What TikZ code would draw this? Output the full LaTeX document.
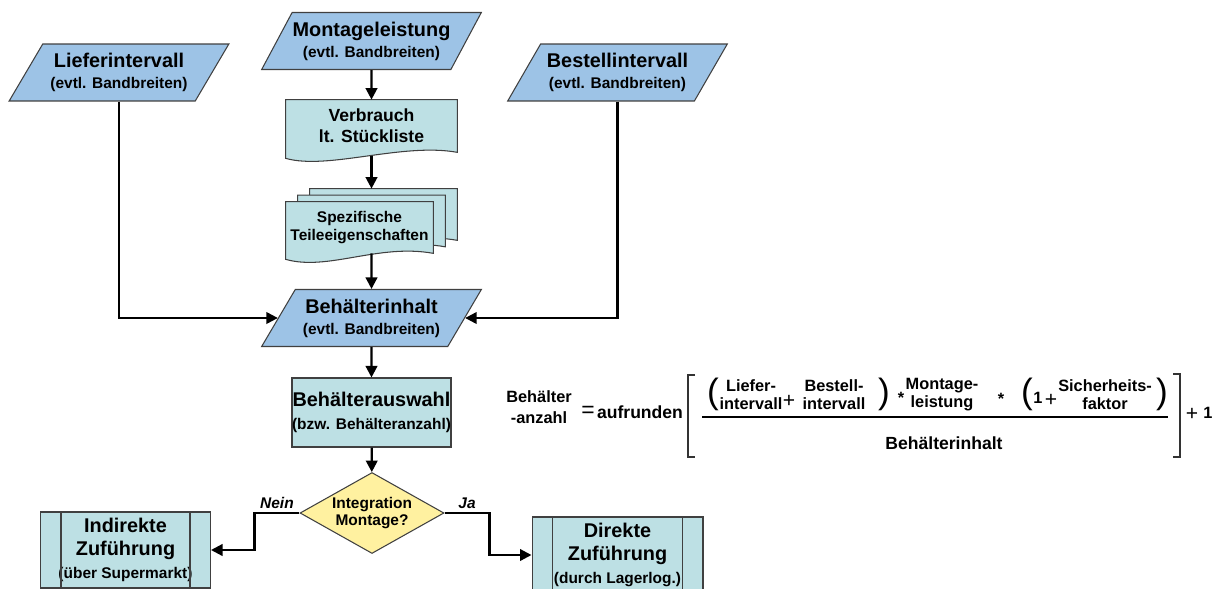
\documentclass[tikz,border=0pt]{standalone}
\usepackage{fontspec}
\setmainfont{Liberation Sans}
\usepackage{tikz}
\usetikzlibrary{shapes.geometric}
\usetikzlibrary{arrows.meta}
\usetikzlibrary{backgrounds}
\usetikzlibrary{positioning}

\definecolor{datenblau}{RGB}{157,195,230}
\definecolor{prozessgruen}{RGB}{189,224,228}
\definecolor{fragegelb}{RGB}{255,241,160}

% kleine Zweitzeile in den Symbolen
\newcommand{\klein}{\fontsize{8.8}{10}\selectfont}
% Dokumentsymbol mit welliger Unterkante
\newcommand{\blatt}[1]{(#1.north west) -- (#1.north east) -- (#1.south east) .. controls +(-55,-10) and +(42,12) .. ([yshift=-0.12cm]#1.south west) -- cycle}

\begin{document}
\begin{tikzpicture}[x=0.02cm, y=-0.02cm,
    rand/.style={draw=black!75, line width=0.6pt},
    daten/.style={trapezium, trapezium left angle=52, trapezium right angle=128, trapezium stretches=true, rand, fill=datenblau, minimum width=4.4cm, minimum height=1.14cm, inner sep=0pt, align=center, font=\fontsize{11.3}{12}\selectfont\bfseries},
    prozess/.style={rectangle, rand, fill=prozessgruen, inner sep=0pt, align=center, font=\fontsize{11.3}{13.2}\selectfont\bfseries},
    dokument/.style={rectangle, inner sep=0pt, align=center},
    entscheidung/.style={diamond, aspect=1.78, rand, fill=fragegelb, minimum width=2.88cm, minimum height=1.62cm, inner sep=0pt, align=center, font=\fontsize{8.8}{10.2}\selectfont\bfseries},
    pfeil/.style={-{Triangle[length=0.23cm, width=0.23cm]}, line width=1.3pt},
    formel/.style={inner sep=0pt, align=center, font=\fontsize{9.3}{10.2}\selectfont\bfseries},
    klammer/.style={inner sep=0pt, font=\fontsize{20}{20}\selectfont},
    zeichen/.style={inner sep=0pt, font=\fontsize{12}{12}\selectfont}]

    \useasboundingbox (0,0) rectangle (1229,588);

    % Mittelachse des Hauptstrangs
    \def\mitte{371.5}

    % Eingangsdaten
    \node[daten] (lief) at (119,72.5) {Lieferintervall\\{\klein (evtl. Bandbreiten)}};
    \node[daten] (mont) at (\mitte,41) {Montageleistung\\{\klein (evtl. Bandbreiten)}};
    \node[daten] (best) at (617.5,72.5) {Bestellintervall\\{\klein (evtl. Bandbreiten)}};

    % Dokumente
    \node[dokument, minimum width=3.42cm, minimum height=1.04cm, font=\fontsize{10}{11.9}\selectfont\bfseries] (verb) at (\mitte,126) {Verbrauch\\lt. St\"uckliste};
    \foreach \i/\d in {c/2,b/1}
    {
      \node[dokument, minimum width=2.94cm, minimum height=1.02cm] (stapel\i) at (359.5+12*\d, 227.5-6.5*\d) {};
    }
    \node[dokument, minimum width=2.94cm, minimum height=1.02cm, font=\fontsize{8.8}{10.2}\selectfont\bfseries] (stapela) at (359.5,227.5) {Spezifische\\Teileeigenschaften};
    \begin{scope}[on background layer]
      \draw[rand, fill=prozessgruen] \blatt{verb};
      \foreach \i in {c,b,a}
        \draw[rand, fill=prozessgruen] \blatt{stapel\i};
    \end{scope}

    \node[daten] (inhalt) at (\mitte,318) {Beh\"alterinhalt\\{\klein (evtl. Bandbreiten)}};
    \node[prozess, minimum width=3.18cm, minimum height=1.38cm] (auswahl) at (\mitte,412.5) {Beh\"alterauswahl\\{\klein (bzw. Beh\"alteranzahl)}};
    \node[entscheidung] (frage) at (372,513) {Integration\\Montage?};

    % Zufuehrungsarten
    \node[prozess, minimum width=3.4cm, minimum height=1.52cm] (ind) at (125.5,550) {Indirekte\\Zuf\"uhrung\\{\klein (\"uber Supermarkt)}};
    \node[prozess, minimum width=3.42cm, minimum height=1.52cm] (dir) at (617.5,555) {Direkte\\Zuf\"uhrung\\{\klein (durch Lagerlog.)}};
    \foreach \p in {ind,dir}
    {
      \draw[rand] ([xshift=0.42cm]\p.north west) -- ([xshift=0.42cm]\p.south west);
      \draw[rand] ([xshift=-0.42cm]\p.north east) -- ([xshift=-0.42cm]\p.south east);
    }

    % Verbindungen
    \draw[pfeil] (mont) -- (verb);
    \draw[pfeil] ([yshift=-0.07cm]verb.south) -- (verb.south |- stapelc.north);
    \draw[pfeil] (stapela.south -| inhalt) -- (inhalt);
    \draw[pfeil] (lief) |- (inhalt);
    \draw[pfeil] (best) |- (inhalt);
    \draw[pfeil] (inhalt) -- (auswahl);
    \draw[pfeil] (auswahl) -- (frage);
    \draw[pfeil] (frage.west) -- ++(-45,0) node[midway, above, inner sep=2pt, font=\fontsize{8.8}{10}\selectfont\bfseries\itshape] {Nein} |- (ind);
    \draw[pfeil] (frage.east) -- ++(45,0) node[midway, above, inner sep=2pt, font=\fontsize{8.8}{10}\selectfont\bfseries\itshape] {Ja} |- (dir);

    % Formel fuer die Behaelteranzahl
    \node[formel, font=\fontsize{9.3}{12}\selectfont\bfseries] (anzahl) at (539,407) {Beh\"alter\\-anzahl};
    \node[zeichen, font=\fontsize{13}{13}\selectfont] (gleich) at (588,412) {=};
    \node[formel, font=\fontsize{10}{10}\selectfont\bfseries] (aufr) at (640,412) {aufrunden};
    \node[klammer] (klauf) at (713,394) {(};
    \node[formel] (liefer) at (751,395) {Liefer-\\intervall};
    \node[zeichen] (plusa) at (789,401) {+};
    \node[formel] (bestell) at (834,395) {Bestell-\\intervall};
    \node[klammer] (klzu) at (884,394) {)};
    \node[formel] (mala) at (901,398) {*};
    \node[formel] (montage) at (942,395) {Montage-\\leistung};
    \node[formel] (malb) at (1001,399) {*};
    \node[klammer] (klaufb) at (1027,394) {(};
    \node[formel] (eins) at (1038,398) {1};
    \node[zeichen] (plusb) at (1051,400) {+};
    \node[formel] (sicher) at (1105,395) {Sicherheits-\\faktor};
    \node[klammer] (klzub) at (1162,394) {)};
    \node[formel, font=\fontsize{10}{10}\selectfont\bfseries] (nenner) at (944,443) {Beh\"alterinhalt};
    \node[zeichen] (plusc) at (1192,414) {+};
    \node[formel] (einsb) at (1208,413) {1};

    % Bruchstrich und eckige Klammern
    \draw[line width=1.4pt] (702,417) -- (1168,417);
    \draw[line width=1.3pt, draw=black!80] (695,375) -- (688,375) -- (688,457) -- (695,457);
    \draw[line width=1.3pt, draw=black!80] (1173,374) -- (1180,374) -- (1180,457) -- (1173,457);
\end{tikzpicture}
\end{document}
